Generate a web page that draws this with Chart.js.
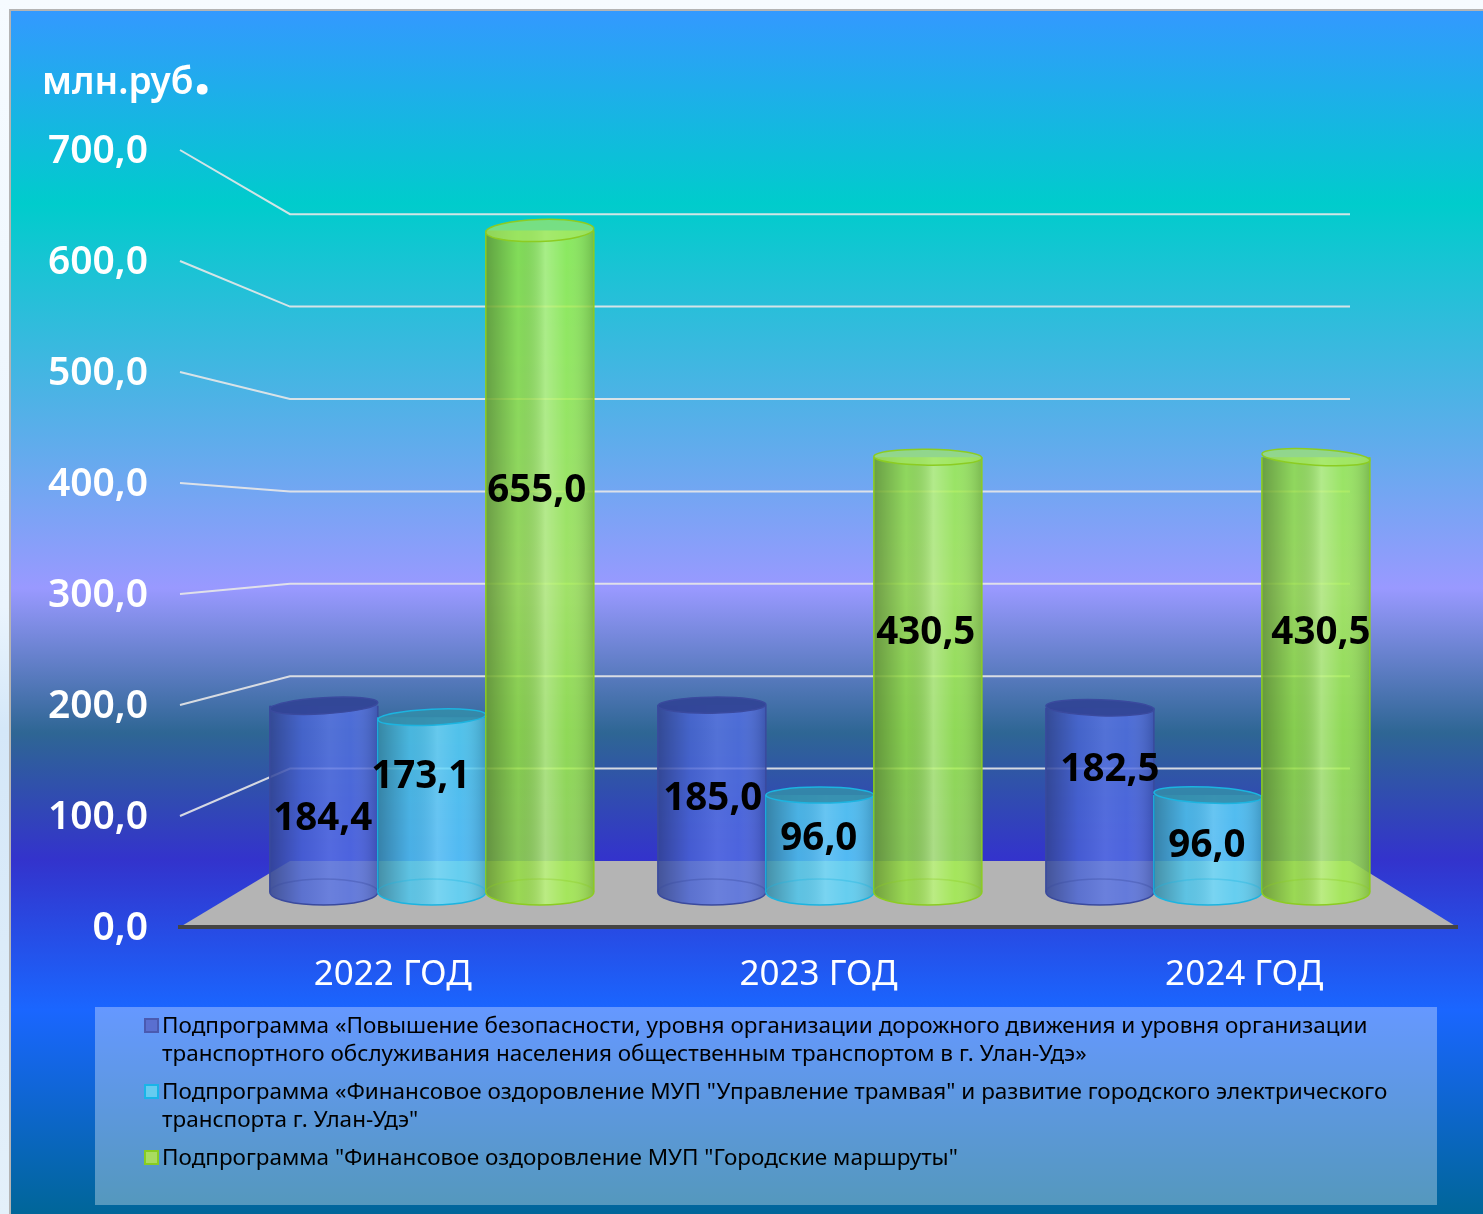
<!DOCTYPE html>
<html lang="ru">
<head>
<meta charset="utf-8">
<title>Подпрограммы</title>
<script src="https://cdn.jsdelivr.net/npm/chart.js@4/dist/chart.umd.min.js"></script>
<style>
  html, body { margin: 0; padding: 0; background: #f4f9ff; }
  canvas { display: block; }
</style>
</head>
<body>
<canvas id="grafico" width="1483" height="1214"></canvas>
<script>
// datos
const categorias = ['2022 ГОД', '2023 ГОД', '2024 ГОД'];
const seguridad = [184.4, 185.0, 182.5];
const tranvia = [173.1, 96.0, 96.0];
const rutas = [655.0, 430.5, 430.5];
const etiquetasY = ['0,0', '100,0', '200,0', '300,0', '400,0', '500,0', '600,0', '700,0'];
const valoresY = [0, 100, 200, 300, 400, 500, 600, 700];
const valoresRejilla = [100, 200, 300, 400, 500, 600, 700];
const unidad = 'млн.руб';
const leyenda = [
  ['Подпрограмма «Повышение безопасности, уровня организации дорожного движения и уровня организации',
   'транспортного обслуживания населения общественным транспортом в г. Улан-Удэ»'],
  ['Подпрограмма «Финансовое оздоровление МУП "Управление трамвая" и развитие городского электрического',
   'транспорта г. Улан-Удэ"'],
  ['Подпрограмма "Финансовое оздоровление МУП "Городские маршруты"']
];

// estilos
const FONT = '"Noto Sans", sans-serif';
const colores = ['rgba(78,106,226,0.82)', 'rgba(84,210,250,0.84)', 'rgba(160,238,72,0.84)'];
const bordes = ['#3a4a9e', '#1cb4e0', '#8ccc22'];
const tapas = ['rgba(50,68,150,0.95)', 'rgba(52,140,170,0.9)', 'rgba(165,232,100,0.7)'];
const brillos = [0.06, 0.14, 0.26];
const muestras = ['#5a6fd0', '#66ccf0', '#a8dc60'];
const bordesMuestra = ['#4a5ab0', '#19b5e8', '#88cc22'];
// desplazamiento manual de cada rótulo respecto al centro de la barra
const ajustesRotulo = [
  [[-1, 20], [1, 0], [10, -30]],
  [[-11, -28], [-1, -4], [-1, 3]],
  [[-3, -70], [-2, -42], [5, -42]]
];

const fondoPlugin = {
  id: 'fondo',
  beforeDraw(chart) {
    const { ctx, width, height } = chart;
    ctx.save();
    const claro = ctx.createLinearGradient(0, 0, 0, height);
    claro.addColorStop(0, '#f6fbff');
    claro.addColorStop(0.5, '#eaf4fd');
    claro.addColorStop(0.6, '#d4e7f8');
    claro.addColorStop(1, '#e4f0fa');
    ctx.fillStyle = claro;
    ctx.fillRect(0, 0, width, height);
    ctx.fillStyle = '#b4b4b4';
    ctx.fillRect(9, 9, width - 9, height - 9);
    const g = ctx.createLinearGradient(0, 11, 0, height);
    g.addColorStop(0, '#3399ff');
    g.addColorStop(0.16, '#00cccc');
    g.addColorStop(0.48, '#9999ff');
    g.addColorStop(0.6, '#2e6694');
    g.addColorStop(0.705, '#3333cc');
    g.addColorStop(0.83, '#1a66ff');
    g.addColorStop(1, '#006699');
    ctx.fillStyle = g;
    ctx.fillRect(11, 11, width - 11, height - 11);
    ctx.restore();
  },
  beforeDatasetsDraw(chart) {
    const { ctx, chartArea, scales } = chart;
    const xAtras = 290, xAtrasFin = 1350;
    const yBack = scales.yBack, yFront = scales.yFront;
    ctx.save();
    // suelo
    ctx.fillStyle = '#b4b4b4';
    ctx.beginPath();
    ctx.moveTo(chartArea.left, yFront.getPixelForValue(0));
    ctx.lineTo(xAtras, yBack.getPixelForValue(0));
    ctx.lineTo(xAtrasFin, yBack.getPixelForValue(0));
    ctx.lineTo(chartArea.right, yFront.getPixelForValue(0));
    ctx.closePath();
    ctx.fill();
    // rejilla
    ctx.strokeStyle = 'rgba(232,232,232,0.9)';
    ctx.lineWidth = 2;
    valoresRejilla.forEach(v => {
      ctx.beginPath();
      ctx.moveTo(chartArea.left, yFront.getPixelForValue(v));
      ctx.lineTo(xAtras, yBack.getPixelForValue(v));
      ctx.lineTo(xAtrasFin, yBack.getPixelForValue(v));
      ctx.stroke();
    });
    ctx.restore();
  }
};

const cilindroPlugin = {
  id: 'cilindro',
  afterDatasetsDraw(chart) {
    const { ctx } = chart;
    [0, 1, 2].forEach(i => {
      chart.getDatasetMeta(i).data.forEach(el => {
        const mitad = el.width / 2, izq = el.x - mitad, der = el.x + mitad;
        const giro = (el.x - 820) * 0.00012;
        const ryTapa = el.y < 300 ? 11 : 8, ryBase = 13;
        const sombra = ctx.createLinearGradient(izq, 0, der, 0);
        sombra.addColorStop(0, 'rgba(0,0,0,0.3)');
        sombra.addColorStop(0.3, 'rgba(0,0,0,0.05)');
        sombra.addColorStop(0.55, `rgba(255,255,255,${brillos[i]})`);
        sombra.addColorStop(0.75, 'rgba(255,255,255,0.02)');
        sombra.addColorStop(1, 'rgba(0,0,0,0.18)');

        ctx.save();
        // media elipse inferior
        ctx.fillStyle = colores[i];
        ctx.beginPath();
        ctx.ellipse(el.x, el.base, mitad, ryBase, 0, 0, Math.PI);
        ctx.fill();
        // sombreado de todo el cuerpo
        ctx.fillStyle = sombra;
        ctx.beginPath();
        ctx.moveTo(izq, el.y);
        ctx.lineTo(der, el.y);
        ctx.lineTo(der, el.base);
        ctx.ellipse(el.x, el.base, mitad, ryBase, 0, 0, Math.PI);
        ctx.closePath();
        ctx.fill();
        // contornos
        ctx.strokeStyle = bordes[i];
        ctx.lineWidth = 1.5;
        ctx.beginPath();
        ctx.moveTo(izq, el.y);
        ctx.lineTo(izq, el.base);
        ctx.moveTo(der, el.y);
        ctx.lineTo(der, el.base);
        ctx.stroke();
        ctx.beginPath();
        ctx.ellipse(el.x, el.base, mitad, ryBase, 0, 0, Math.PI);
        ctx.stroke();
        ctx.globalAlpha = 0.35;
        ctx.beginPath();
        ctx.ellipse(el.x, el.base, mitad, ryBase, 0, Math.PI, Math.PI * 2);
        ctx.stroke();
        ctx.globalAlpha = 1;
        // tapa
        ctx.fillStyle = tapas[i];
        ctx.beginPath();
        ctx.ellipse(el.x, el.y, mitad, ryTapa, giro, 0, Math.PI * 2);
        ctx.fill();
        ctx.stroke();
        ctx.restore();
      });
    });

    // rótulos
    ctx.save();
    ctx.fillStyle = '#000';
    ctx.font = '700 38.5px ' + FONT;
    ctx.textAlign = 'center';
    ctx.textBaseline = 'middle';
    [0, 1, 2].forEach(i => {
      chart.getDatasetMeta(i).data.forEach((el, j) => {
        const texto = chart.data.datasets[i].data[j].y.toFixed(1).replace('.', ',');
        const [dx, dy] = ajustesRotulo[i][j];
        ctx.fillText(texto, el.x + dx, (el.y + el.base) / 2 + dy);
      });
    });
    ctx.restore();
  },
  afterDraw(chart) {
    const { ctx } = chart;
    ctx.save();
    // unidad
    ctx.fillStyle = '#fff';
    ctx.textBaseline = 'alphabetic';
    ctx.font = '600 37px ' + FONT;
    ctx.fillText(unidad, 42, 94);
    const anchoUnidad = ctx.measureText(unidad).width;
    ctx.font = '700 62px ' + FONT;
    ctx.fillText('.', 42 + anchoUnidad, 94);

    // leyenda
    ctx.fillStyle = 'rgba(255,255,255,0.33)';
    ctx.fillRect(95, 1007, 1342, 198);
    ctx.font = '22.5px ' + FONT;
    ctx.textBaseline = 'middle';
    const inicioBloques = [1027, 1093, 1159];
    leyenda.forEach((lineas, i) => {
      const y0 = inicioBloques[i];
      ctx.fillStyle = muestras[i];
      ctx.strokeStyle = bordesMuestra[i];
      ctx.lineWidth = 2;
      ctx.fillRect(145, y0 - 8, 13, 13);
      ctx.strokeRect(145, y0 - 8, 13, 13);
      ctx.fillStyle = '#000';
      lineas.forEach((t, k) => ctx.fillText(t, 162, y0 + k * 28));
    });
    ctx.restore();
  }
};

new Chart(document.getElementById('grafico'), {
  type: 'bar',
  data: {
    labels: categorias,
    datasets: [seguridad, tranvia, rutas].map((serie, i) => ({
      label: leyenda[i].join(' '),
      data: serie.map((y, x) => ({ x, y })),
      backgroundColor: colores[i],
      borderWidth: 0,
      xAxisID: 'xBar',
      yAxisID: 'yBar',
      categoryPercentage: 0.835,
      barPercentage: 1
    }))
  },
  options: {
    responsive: false,
    animation: false,
    layout: { padding: { left: 0, top: 150, right: 26, bottom: 0 } },
    plugins: { legend: { display: false }, tooltip: { enabled: false } },
    scales: {
      x: {
        type: 'category',
        position: 'bottom',
        grid: { display: false, drawTicks: false },
        border: { display: true, color: '#444', width: 4, z: 1 },
        ticks: { color: '#fff', font: { family: FONT, size: 35 }, padding: 27, maxRotation: 0, autoSkip: false },
        afterFit(scale) { scale.height = 287; }
      },
      y: {
        type: 'linear',
        position: 'left',
        // 1,8 de margen: centra los dígitos sobre la línea de cada valor
        min: 1.8,
        max: 701.8,
        grid: { display: false, drawTicks: false },
        border: { display: false },
        afterBuildTicks(scale) { scale.ticks = valoresY.map(value => ({ value })); },
        ticks: {
          autoSkip: false,
          color: '#fff',
          padding: 32,
          font: { family: FONT, size: 39, weight: '600' },
          callback: (v, i) => etiquetasY[i]
        },
        afterFit(scale) { scale.width = 180; }
      },
      // borde delantero de la rejilla
      yFront: { type: 'linear', axis: 'y', position: 'left', display: false, min: 0, max: 700 },
      // escala de las barras: el eje de x converge hacia el fondo
      xBar: {
        type: 'linear',
        axis: 'x',
        position: 'bottom',
        display: false,
        offset: false,
        min: -0.649,
        max: 2.642,
        afterBuildTicks(scale) { scale.ticks = categorias.map((c, i) => ({ value: i })); }
      },
      yBar: { type: 'linear', axis: 'y', position: 'left', display: false, min: -34.65, max: 734.65 },
      // pared del fondo
      yBack: { type: 'linear', axis: 'y', position: 'left', display: false, min: -71.4, max: 769.5 }
    }
  },
  plugins: [fondoPlugin, cilindroPlugin]
});
</script>
</body>
</html>
